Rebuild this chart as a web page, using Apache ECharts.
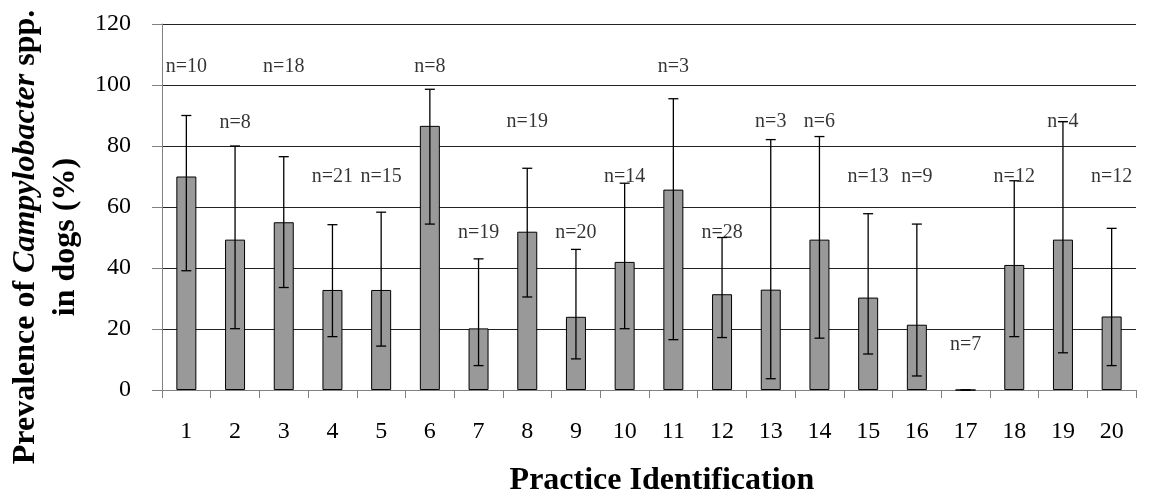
<!DOCTYPE html>
<html>
<head>
<meta charset="utf-8">
<script src="https://cdn.jsdelivr.net/npm/echarts@6/dist/echarts.min.js"></script>
<style>
html,body{margin:0;padding:0;background:#fff;}
#chart{width:1149px;height:499px;}
</style>
</head>
<body>
<div id="chart"></div>
<script>
// ---- data ----
const categories = ['1','2','3','4','5','6','7','8','9','10','11','12','13','14','15','16','17','18','19','20'];
const prevalence = [70, 49.3, 55, 32.8, 32.8, 86.6, 20.2, 51.9, 24, 42, 65.7, 31.4, 32.9, 49.3, 30.3, 21.4, 0, 41, 49.3, 24.1];
const ciLower = [39.1, 20.1, 33.6, 17.5, 14.4, 54.4, 8, 30.5, 10.2, 20.1, 16.5, 17.2, 3.7, 17, 11.8, 4.6, 0, 17.5, 12.2, 8];
const ciUpper = [90, 80, 76.5, 54.2, 58.3, 98.6, 43, 72.7, 46.1, 67.8, 95.5, 50, 82.1, 83.1, 57.8, 54.4, 0, 68.6, 88, 53];
const sampleLabels = ['n=10','n=8','n=18','n=21','n=15','n=8','n=19','n=19','n=20','n=14','n=3','n=28','n=3','n=6','n=13','n=9','n=7','n=12','n=4','n=12'];
const labelLevel = [106, 87.5, 106, 70, 70, 106, 51.6, 88, 51.6, 70, 106, 51.6, 88, 88, 70, 70, 15, 70, 88, 70];
const yTicks = {min: 0, max: 120, interval: 20};

const FONT = 'Liberation Serif, Times New Roman, serif';

const chart = echarts.init(document.getElementById('chart'));

const errorData = categories.map((c, i) => [i, ciLower[i], ciUpper[i]]);
const labelData = categories.map((c, i) => [i, labelLevel[i], sampleLabels[i]]);

const option = {
  animation: false,
  backgroundColor: '#fff',
  grid: {left: 162, right: 13, top: 24, bottom: 109, containLabel: false},
  xAxis: {
    type: 'category',
    data: categories,
    boundaryGap: true,
    axisLine: {show: true, lineStyle: {color: '#808080', width: 1}},
    axisTick: {show: true, length: 8, lineStyle: {color: '#808080'}},
    axisLabel: {fontFamily: FONT, fontSize: 24, color: '#000', margin: 30},
    splitLine: {show: false}
  },
  yAxis: {
    type: 'value',
    min: yTicks.min, max: yTicks.max, interval: yTicks.interval,
    axisLine: {show: true, lineStyle: {color: '#808080', width: 1}},
    axisTick: {show: true, length: 10, lineStyle: {color: '#808080'}},
    axisLabel: {fontFamily: FONT, fontSize: 24, color: '#000', margin: 31},
    splitLine: {show: true, lineStyle: {color: '#222', width: 1}}
  },
  graphic: [
    {
      type: 'text',
      x: 46, y: 237,
      rotation: Math.PI / 2,
      style: {
        text: '{b|Prevalence of }{bi|Campylobacter}{b| spp.}\n{b|in dogs (%)}',
        align: 'center',
        verticalAlign: 'middle',
        rich: {
          b: {fontFamily: FONT, fontSize: 32, fontWeight: 'bold', fill: '#000', lineHeight: 40, align: 'center'},
          bi: {fontFamily: FONT, fontSize: 32, fontWeight: 'bold', fontStyle: 'italic', fill: '#000', lineHeight: 40}
        }
      }
    },
    {
      type: 'text',
      x: 662, y: 481,
      style: {
        text: 'Practice Identification',
        fontFamily: FONT, fontSize: 32, fontWeight: 'bold', fill: '#000',
        align: 'center', verticalAlign: 'middle'
      }
    }
  ],
  series: [
    {
      type: 'bar',
      data: prevalence,
      barWidth: 20,
      itemStyle: {color: '#999999', borderColor: '#000', borderWidth: 1},
      z: 2
    },
    {
      type: 'scatter',
      data: labelData,
      symbolSize: 0,
      encode: {x: 0, y: 1},
      label: {
        show: true,
        position: 'inside',
        formatter: p => p.value[2],
        fontFamily: FONT, fontSize: 20, color: '#000'
      },
      z: 3
    },
    {
      type: 'custom',
      data: errorData,
      encode: {x: 0, y: [1, 2]},
      renderItem: function (params, api) {
        const x = api.value(0);
        const lo = api.coord([x, api.value(1)]);
        const hi = api.coord([x, api.value(2)]);
        const hw = 5;
        const st = {stroke: '#000', lineWidth: 1.3};
        return {
          type: 'group',
          children: [
            {type: 'line', shape: {x1: lo[0], y1: hi[1], x2: lo[0], y2: lo[1]}, style: st},
            {type: 'line', shape: {x1: lo[0] - hw, y1: hi[1], x2: lo[0] + hw, y2: hi[1]}, style: st},
            {type: 'line', shape: {x1: lo[0] - hw, y1: lo[1], x2: lo[0] + hw, y2: lo[1]}, style: st}
          ]
        };
      },
      z: 4
    }
  ]
};
chart.setOption(option);
</script>
</body>
</html>
